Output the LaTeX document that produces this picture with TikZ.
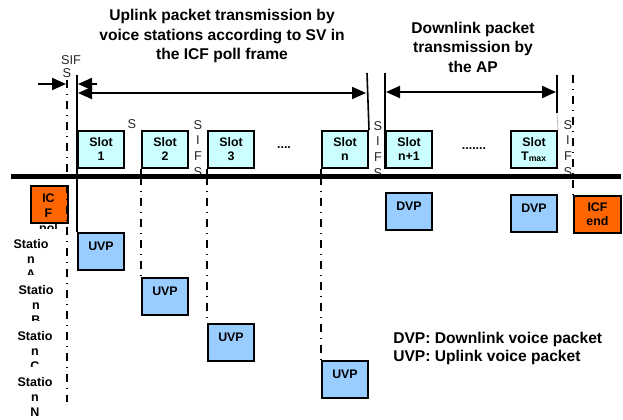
\documentclass[tikz,border=0pt]{standalone}
\usepackage{fontspec}
\setmainfont{Liberation Sans}
\usetikzlibrary{arrows.meta}

\definecolor{slotcyan}{HTML}{CCFFFF}
\definecolor{pktblue}{HTML}{99CCFF}
\definecolor{icforange}{HTML}{FF6600}

\begin{document}
\begin{tikzpicture}[x=0.75pt,y=-0.75pt,
  box/.style={draw=black, line width=1.5pt, inner sep=0pt,
    minimum width=46*0.75pt, minimum height=37*0.75pt, anchor=north west,
    font=\fontsize{9.3}{10.5}\selectfont\bfseries, align=center},
  slotbox/.style={box, fill=slotcyan},
  pktbox/.style={box, fill=pktblue},
  icfbox/.style={box, fill=icforange},
  title/.style={align=center, inner sep=0pt,
    font=\fontsize{11.7}{14.6}\selectfont\bfseries},
  legend/.style={align=left, inner sep=0pt, anchor=west,
    font=\fontsize{11.7}{13.5}\selectfont\bfseries},
  station/.style={align=center, inner sep=0pt, anchor=north,
    font=\fontsize{9.4}{11.25}\selectfont\bfseries},
  sifs/.style={align=center, inner sep=0pt, text=black!85,
    font=\fontsize{9.6}{11.8}\selectfont},
  bar/.style={line width=1.2pt},
  dashdot/.style={line width=1.2pt,
    dash pattern=on 6pt off 4.5pt on 0.75pt off 4.5pt},
  arr/.style={line width=1.5pt, -{Triangle[length=10.5pt,width=9pt]}},
  dblarr/.style={line width=1.5pt,
    {Triangle[length=10.5pt,width=9pt]}-{Triangle[length=10.5pt,width=9pt]}},
  dots/.style={inner sep=0pt, font=\fontsize{9.3}{10.5}\selectfont\bfseries}
]
\useasboundingbox (0,0) rectangle (623,420);

% headings
\node[title] (uptitle) at (222,36) {Uplink packet transmission by\\voice stations according to SV in\\the ICF poll frame};
\node[title] (dntitle) at (473,47) {Downlink packet\\transmission by\\the AP};

% slots of the poll frame
\node[slotbox] (slot1)  at (77,130)  {Slot\\1};
\node[slotbox] (slot2)  at (141,130) {Slot\\2};
\node[slotbox] (slot3)  at (207,130) {Slot\\3};
\node[slotbox] (slotn)  at (321,130) {Slot\\n};
\node[slotbox] (slotn1) at (385,130) {Slot\\n+1};
\node[slotbox] (slotT)  at (510,130) {Slot\\T\textsubscript{max}};
\node[dots] (dotsA) at (284,148) {....};
\node[dots] (dotsB) at (474,149) {.......};

% SIFS gaps
\node[sifs] (siftop) at (71,60) {SIF};
\node[sifs] (siftopS) at (67,73) {S};
\node[sifs] (sgap1) at (132,124) {S};
\node[sifs, anchor=north] (sgap2) at (198,120) {S\\I\\F\\S};
\node[sifs, anchor=north] (sgap3) at (378,121) {S\\I\\F\\S};
\node[sifs, anchor=north] (sgap4) at (568,120) {S\\I\\F\\S};

% packets
\node[icfbox, minimum width=37*0.75pt] (icfpoll) at (30,185) {};
\begin{scope}
  \clip (15,180) rectangle (80,228.5);
  \node[station, font=\fontsize{9.3}{11.25}\selectfont\bfseries] (icfpolltxt) at (48.5,193.5) {IC\\F\\pol};
\end{scope}
\node[icfbox, minimum width=47*0.75pt] (icfend) at (573,195) {ICF\\end};
\node[pktbox] (uvp1) at (77,232)  {\raisebox{3.75pt}[\height][\depth]{UVP}};
\node[pktbox] (uvp2) at (141,277) {\raisebox{3.75pt}[\height][\depth]{UVP}};
\node[pktbox] (uvp3) at (207,323) {\raisebox{3.75pt}[\height][\depth]{UVP}};
\node[pktbox] (uvpn) at (321,360) {\raisebox{3.75pt}[\height][\depth]{UVP}};
\node[pktbox] (dvp1) at (385,192) {\raisebox{3.75pt}[\height][\depth]{DVP}};
\node[pktbox] (dvp2) at (510,194) {\raisebox{3.75pt}[\height][\depth]{DVP}};

% station names
\begin{scope}
  \clip (0,230) rectangle (60,274.5);
  \node[station] (staA) at (31,239) {Statio\\n\\A};
\end{scope}
\begin{scope}
  \clip (0,280) rectangle (60,320.5);
  \node[station] (staB) at (36,285) {Statio\\n\\B};
\end{scope}
\begin{scope}
  \clip (0,326) rectangle (60,366.5);
  \node[station] (staC) at (35,331) {Statio\\n\\C};
\end{scope}
\node[station] (staN) at (35,377) {Statio\\n\\N};

% time axis
\coordinate (tlL) at (11,177);
\coordinate (tlR) at (621,177);
\draw[line width=3.75pt] (tlL) -- (tlR);

% frame boundaries
\coordinate (b1top) at (77,75);
\coordinate (b2top) at (367,73);
\coordinate (b3top) at (385,73);
\coordinate (b4top) at (557,75);
\coordinate (b4bot) at (557,113);
\draw[bar] (b1top) -- (uvp1.north west);
\draw[bar] (b2top) -- (slotn.north east);
\draw[bar] (b3top) -- (slotn1.south west);
\draw[bar] (b4top) -- (b4bot);
\draw[black!30, line width=0.5pt] (b4bot) -- (slotT.north east);

% SIFS markers
\coordinate (ddLtop) at (67,80);
\coordinate (ddLbot) at (67,402);
\draw[dashdot] (ddLtop) -- (ddLbot);
\coordinate (ddRtop) at (573,75);
\draw[dashdot] (ddRtop) -- (icfend.north west);

% slot to station packet links
\foreach \s/\u in {slot2/uvp2, slot3/uvp3, slotn/uvpn}{
  \coordinate (\s-ax) at (\s.south west |- tlL);
  \draw[bar] (\s.south west) -- (\s-ax);
  \draw[dashdot] (\s-ax) -- (\u.north west);
}

% spans
\coordinate (a1s) at (38,84);
\coordinate (a1e) at (66,84);
\coordinate (a2s) at (97,84);
\coordinate (a2e) at (78,84);
\draw[arr] (a1s) -- (a1e);
\draw[arr] (a2s) -- (a2e);
\coordinate (upL) at (78,93);
\coordinate (upR) at (366,93);
\draw[dblarr] (upL) -- (upR);
\coordinate (dnL) at (386,92);
\coordinate (dnR) at (556,92);
\draw[dblarr] (dnL) -- (dnR);

% legend
\node[legend] (legend) at (393,348) {DVP: Downlink voice packet\\UVP: Uplink voice packet};
\end{tikzpicture}
\end{document}
